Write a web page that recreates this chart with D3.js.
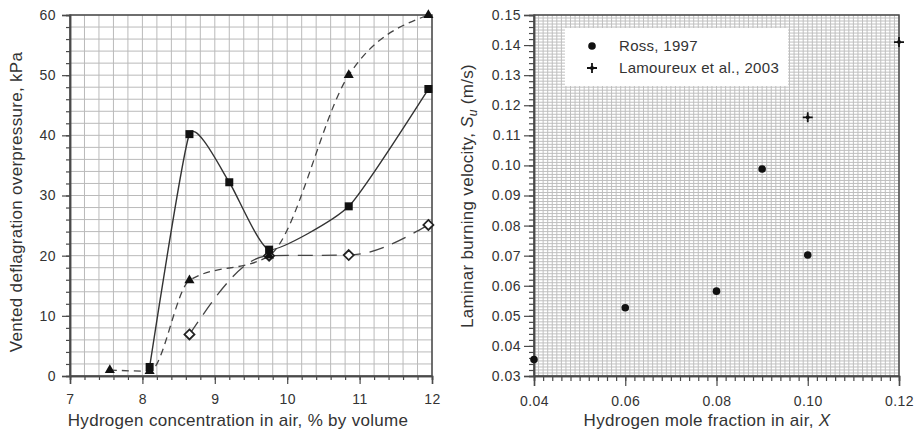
<!DOCTYPE html>
<html>
<head>
<meta charset="utf-8">
<script src="https://cdn.jsdelivr.net/npm/d3@7/dist/d3.min.js"></script>
<style>
  html, body { margin: 0; padding: 0; background: #fff; }
  svg { display: block; font-family: "Liberation Sans", Arial, sans-serif; }
</style>
</head>
<body>
<svg id="chart" width="917" height="432"></svg>
<script>
// ---------- Left chart data ----------
const leftXTicks = [7, 8, 9, 10, 11, 12];
const leftYTicks = [0, 10, 20, 30, 40, 50, 60];
const squaresX = [8.1, 8.65, 9.2, 9.75, 10.85, 11.95];
const squaresY = [1.5, 40.2, 32.2, 21.0, 28.2, 47.7];
const trianglesX = [7.55, 8.1, 8.65, 9.75, 10.85, 11.95];
const trianglesY = [1.0, 0.8, 15.9, 20.0, 50.0, 60.0];
const diamondsX = [8.65, 9.75, 10.85, 11.95];
const diamondsY = [6.9, 20.0, 20.1, 25.1];

// ---------- Right chart data ----------
const rightXTicks = [0.04, 0.06, 0.08, 0.10, 0.12];
const rightYTicks = [0.03, 0.04, 0.05, 0.06, 0.07, 0.08, 0.09, 0.10, 0.11, 0.12, 0.13, 0.14, 0.15];
const rossX = [0.04, 0.06, 0.08, 0.09, 0.10];
const rossY = [0.0355, 0.0527, 0.0582, 0.0988, 0.0702];
const lamX = [0.10, 0.12];
const lamY = [0.116, 0.141];
const legendLabels = ["Ross, 1997", "Lamoureux et al., 2003"];

const svg = d3.select("#chart");
const axisColor = "#4a4a4a";
const textColor = "#333";
const tickFont = "14px";
const titleFont = "17px";

function range(a, b, step) {
  const out = [];
  const n = Math.round((b - a) / step);
  for (let i = 0; i <= n; i++) out.push(+(a + i * step).toFixed(6));
  return out;
}

function drawPanel(opts) {
  const { x, y, gridX, gridY, minorX, minorY, xTicks, yTicks, xFmt, yFmt, majTick, minTick, yPad, gridColor } = opts;
  const g = svg.append("g");
  const [x0, x1] = x.range();
  const [y0, y1] = y.range();
  g.append("g").selectAll("line").data(gridX).join("line")
    .attr("x1", d => x(d)).attr("x2", d => x(d)).attr("y1", y0).attr("y2", y1)
    .attr("stroke", gridColor).attr("stroke-width", 1);
  g.append("g").selectAll("line").data(gridY).join("line")
    .attr("y1", d => y(d)).attr("y2", d => y(d)).attr("x1", x0).attr("x2", x1)
    .attr("stroke", gridColor).attr("stroke-width", 1);
  g.append("rect").attr("x", x0).attr("y", y1).attr("width", x1 - x0).attr("height", y0 - y1)
    .attr("fill", "none").attr("stroke", axisColor).attr("stroke-width", 1.5);
  const ax = g.append("g").attr("transform", `translate(0,${y0})`)
    .call(d3.axisBottom(x).tickValues(minorX).tickSize(minTick).tickFormat(""));
  const ay = g.append("g").attr("transform", `translate(${x0},0)`)
    .call(d3.axisLeft(y).tickValues(minorY).tickSize(minTick).tickFormat(""));
  const bx = g.append("g").attr("transform", `translate(0,${y0})`)
    .call(d3.axisBottom(x).tickValues(xTicks).tickSize(majTick).tickPadding(10).tickFormat(xFmt));
  const by = g.append("g").attr("transform", `translate(${x0},0)`)
    .call(d3.axisLeft(y).tickValues(yTicks).tickSize(majTick).tickPadding(yPad).tickFormat(yFmt));
  [ax, ay, bx, by].forEach(a => {
    a.select(".domain").attr("stroke", axisColor).attr("stroke-width", 1.5);
    a.selectAll(".tick line").attr("stroke", axisColor).attr("stroke-width", 1.2);
    a.selectAll("text").attr("fill", textColor).style("font-size", tickFont)
      .style("letter-spacing", "0.5px")
      .style("font-family", '"Liberation Sans", Arial, sans-serif');
  });
  return g;
}

// ================= LEFT CHART =================
const xL = d3.scaleLinear().domain([7, 12]).range([70, 432]);
const yL = d3.scaleLinear().domain([0, 60]).range([376, 15]);
drawPanel({
  x: xL, y: yL,
  gridX: range(7, 12, 0.2), gridY: range(0, 60, 2),
  minorX: range(7, 12, 0.2), minorY: range(0, 60, 2),
  xTicks: leftXTicks, yTicks: leftYTicks,
  xFmt: d3.format("d"), yFmt: d3.format("d"),
  majTick: 8, minTick: 4, yPad: 6, gridColor: "#bababa"
});

const lineL = (xs, ys, curve) => d3.line().curve(curve)
  .x(i => xL(xs[i])).y(i => yL(ys[i]))(d3.range(xs.length));

const leftG = svg.append("g");
leftG.append("path").attr("d", lineL(diamondsX, diamondsY, d3.curveMonotoneX))
  .attr("fill", "none").attr("stroke", "#444").attr("stroke-width", 1.3)
  .attr("stroke-dasharray", "15,9");
leftG.append("path").attr("d", lineL(trianglesX, trianglesY, d3.curveMonotoneX))
  .attr("fill", "none").attr("stroke", "#444").attr("stroke-width", 1.3)
  .attr("stroke-dasharray", "7,5");
leftG.append("path").attr("d", lineL(squaresX, squaresY, d3.curveCardinal.tension(0.5)))
  .attr("fill", "none").attr("stroke", "#333").attr("stroke-width", 1.4);

const diamondPath = "M0,-5L5,0L0,5L-5,0Z";
leftG.append("g").selectAll("path").data(d3.range(diamondsX.length)).join("path")
  .attr("transform", i => `translate(${xL(diamondsX[i])},${yL(diamondsY[i])})`)
  .attr("d", diamondPath)
  .attr("fill", "#fff").attr("stroke", "#222").attr("stroke-width", 1.8);
leftG.append("g").selectAll("path").data(d3.range(trianglesX.length)).join("path")
  .attr("transform", i => `translate(${xL(trianglesX[i])},${yL(trianglesY[i])})`)
  .attr("d", d3.symbol(d3.symbolTriangle, 44)())
  .attr("fill", "#111");
leftG.append("g").selectAll("rect").data(d3.range(squaresX.length)).join("rect")
  .attr("x", i => xL(squaresX[i]) - 4).attr("y", i => yL(squaresY[i]) - 4)
  .attr("width", 8).attr("height", 8).attr("fill", "#111");

svg.append("text").attr("x", 238).attr("y", 426).attr("text-anchor", "middle")
  .attr("fill", textColor).style("font-size", titleFont).style("letter-spacing", "0.3px")
  .text("Hydrogen concentration in air, % by volume");
svg.append("text").attr("transform", "translate(22,202) rotate(-90)").attr("text-anchor", "middle")
  .attr("fill", textColor).style("font-size", titleFont).style("letter-spacing", "0.3px")
  .text("Vented deflagration overpressure, kPa");

// ================= RIGHT CHART =================
const xR = d3.scaleLinear().domain([0.04, 0.12]).range([534, 899]);
const yR = d3.scaleLinear().domain([0.03, 0.15]).range([376, 15]);
drawPanel({
  x: xR, y: yR,
  gridX: range(0.04, 0.12, 0.001), gridY: range(0.03, 0.15, 0.001),
  minorX: range(0.04, 0.12, 0.002), minorY: range(0.03, 0.15, 0.002),
  xTicks: rightXTicks, yTicks: rightYTicks,
  xFmt: d3.format(".2f"), yFmt: d3.format(".2f"),
  majTick: 10, minTick: 5, yPad: 3, gridColor: "#bfbfbf"
});

const lg = svg.append("g");
lg.append("rect").attr("x", 565).attr("y", 28).attr("width", 223).attr("height", 58).attr("fill", "#fff");
const plusPath = "M-5,0H5M0,-5V5";
function drawRoss(sel) {
  sel.append("circle").attr("r", 3.8).attr("fill", "#111");
}
function drawLam(sel) {
  sel.append("path").attr("d", plusPath).attr("stroke", "#111").attr("stroke-width", 1.8);
  sel.append("circle").attr("r", 2).attr("fill", "#111");
}
const legRows = lg.selectAll("g").data(legendLabels).join("g")
  .attr("transform", (d, i) => `translate(592,${46 + i * 22})`);
legRows.each(function (d, i) { i === 0 ? drawRoss(d3.select(this)) : drawLam(d3.select(this)); });
legRows.append("text").attr("x", 27).attr("y", 5).attr("fill", textColor)
  .style("font-size", "15px").style("letter-spacing", "0.3px").text(d => d);

svg.append("g").selectAll("g").data(d3.range(rossX.length)).join("g")
  .attr("transform", i => `translate(${xR(rossX[i])},${yR(rossY[i])})`)
  .each(function () { drawRoss(d3.select(this)); });
svg.append("g").selectAll("g").data(d3.range(lamX.length)).join("g")
  .attr("transform", i => `translate(${xR(lamX[i])},${yR(lamY[i])})`)
  .each(function () { drawLam(d3.select(this)); });

const xt = svg.append("text").attr("x", 707).attr("y", 426).attr("text-anchor", "middle")
  .attr("fill", textColor).style("font-size", titleFont).style("letter-spacing", "0.3px");
xt.append("tspan").text("Hydrogen mole fraction in air, ");
xt.append("tspan").style("font-style", "italic").text("X");

const yt = svg.append("text").attr("transform", "translate(473,196) rotate(-90)").attr("text-anchor", "middle")
  .attr("fill", textColor).style("font-size", titleFont).style("letter-spacing", "0.3px");
yt.append("tspan").text("Laminar burning velocity, ");
yt.append("tspan").style("font-style", "italic").text("S");
yt.append("tspan").style("font-style", "italic").style("font-size", "12px").attr("dy", 4).text("u");
yt.append("tspan").attr("dy", -4).text(" (m/s)");
</script>
</body>
</html>
